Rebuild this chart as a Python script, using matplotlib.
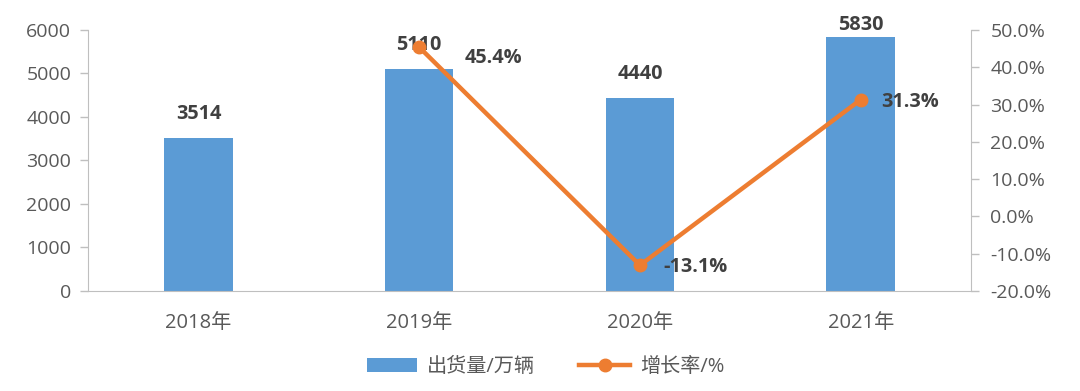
import numpy as np
import matplotlib as mpl
import matplotlib.pyplot as plt
from matplotlib.ticker import FuncFormatter

plt.rcParams["font.family"] = ["Open Sans", "Noto Sans CJK SC", "DejaVu Sans"]

years = ["2018年", "2019年", "2020年", "2021年"]
shipments = [3514, 5110, 4440, 5830]
growth_years = ["2019年", "2020年", "2021年"]
growth = [45.4, -13.1, 31.3]

BAR = "#5B9BD5"
LINE = "#ED7D31"
AXIS = "#BFBFBF"
TICK = "#595959"
LABEL = "#404040"

fig = plt.figure(figsize=(10.8, 3.91), dpi=100)
ax = fig.add_axes([0.0815, 0.2558, 0.8176, 0.6675])
ax2 = ax.twinx()

x = np.arange(len(years))
ax.bar(x, shipments, width=0.31, color=BAR, label="出货量/万辆", zorder=2)
ax.set_xlim(-0.5, len(years) - 0.5)
ax.set_ylim(0, 6000)
ax.set_yticks(np.arange(0, 6001, 1000))
ax.set_xticks(x)
ax.set_xticklabels(years)

# bar value labels, kept inside the figure near the top
for xi, v in zip(x, shipments):
    ty = min(v + 550, 6115)
    ax.text(xi, ty, str(v), ha="center", va="center", fontsize=14.3,
            fontweight="bold", color=LABEL, clip_on=False, zorder=5)

gx = [years.index(y) for y in growth_years]
ax2.plot(gx, growth, color=LINE, lw=3.2, marker="o", ms=9,
         label="增长率/%", zorder=3)
ax2.set_ylim(-20, 50)
ax2.set_yticks(np.arange(-20, 51, 10))
ax2.yaxis.set_major_formatter(FuncFormatter(lambda v, p: f"{v:.1f}%"))

label_dx = [0.335, 0.25, 0.226]
label_dy = [-3.0, -0.5, -0.5]
for xi, g, dx, dy in zip(gx, growth, label_dx, label_dy):
    ax2.text(xi + dx, g + dy, f"{g:.1f}%", ha="center", va="center",
             fontsize=14.3, fontweight="bold", color=LABEL, zorder=5)

for a in (ax, ax2):
    for s in a.spines.values():
        s.set_visible(False)
    a.tick_params(colors=AXIS, labelcolor=TICK, labelsize=14, length=6,
                  width=1)
ax.spines["left"].set_visible(True)
ax.spines["left"].set_color(AXIS)
ax.spines["bottom"].set_visible(True)
ax.spines["bottom"].set_color(AXIS)
ax2.spines["right"].set_visible(True)
ax2.spines["right"].set_color(AXIS)
ax.tick_params(axis="x", length=0, pad=16, labelsize=14.5)
ax.tick_params(axis="y", pad=6)
ax2.tick_params(axis="y", pad=8)

h1, l1 = ax.get_legend_handles_labels()
h2, l2 = ax2.get_legend_handles_labels()
fig.legend(h1 + h2, l1 + l2, loc="center", bbox_to_anchor=(0.505, 0.062),
           ncol=2, frameon=False, fontsize=14.5, labelcolor=TICK,
           handlelength=2.5, columnspacing=2.2, handletextpad=0.5)

fig.savefig("out.png", dpi=100)
